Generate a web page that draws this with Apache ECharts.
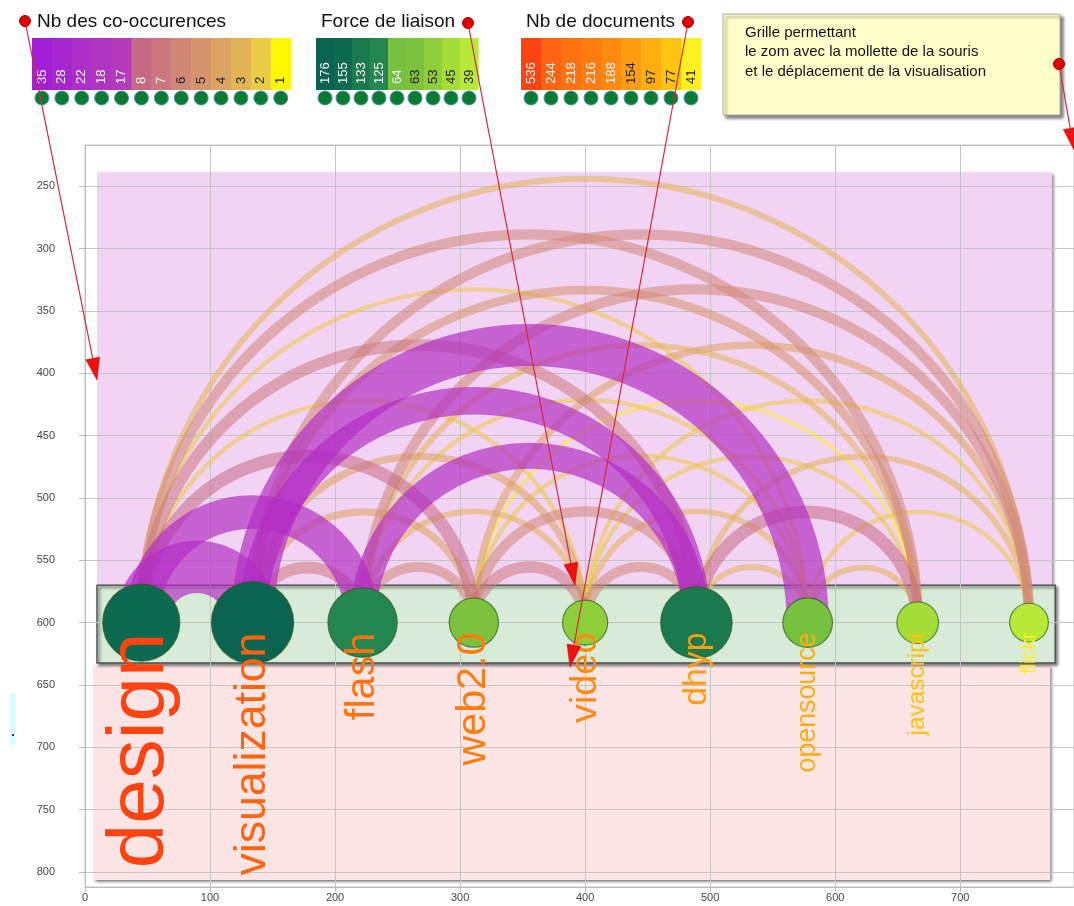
<!DOCTYPE html>
<html>
<head>
<meta charset="utf-8">
<script src="https://cdn.jsdelivr.net/npm/echarts@6/dist/echarts.min.js"></script>
<style>
  html, body { margin: 0; padding: 0; background: #fff; }
  #chart { width: 1074px; height: 906px; }
</style>
</head>
<body>
<div id="chart"></div>
<script>
    // mots (noeuds)
    var words = ['design', 'visualization', 'flash', 'web2.0', 'video', 'dhyp', 'opensource', 'javascript', 'flickr'];
    var wordX = [45, 134, 222, 311, 400, 489, 578, 666, 755];
    var wordForce = [155, 176, 125, 63, 53, 133, 64, 45, 39];
    var wordDocs = [536, 244, 218, 216, 188, 154, 97, 77, 41];

    // co-occurences (arcs)
    var linkSource = [0, 1, 2, 3, 4, 5, 6, 0, 1, 2, 3, 4, 5, 6, 0, 1, 2, 3, 4, 5, 0, 1, 2, 3, 4, 0, 1, 2, 3, 0, 1, 2, 0, 1, 0];
    var linkTarget = [1, 2, 3, 4, 5, 6, 7, 2, 3, 4, 5, 6, 7, 8, 3, 4, 5, 6, 7, 8, 4, 5, 6, 7, 8, 5, 6, 7, 8, 6, 7, 8, 7, 8, 8];
    var linkCount = [35, 7, 6, 7, 6, 3, 3, 22, 4, 3, 6, 3, 8, 2, 8, 4, 17, 2, 2, 3, 2, 18, 2, 1, 2, 7, 28, 3, 4, 2, 5, 6, 6, 6, 3];

    // legendes
    var coocTicks = [35, 28, 22, 18, 17, 8, 7, 6, 5, 4, 3, 2, 1];
    var coocColors = ['#a21fd6', '#a826cf', '#ad2ec8', '#b036c2', '#b43cbc', '#c46a84', '#ca787e', '#d08676', '#d6946c', '#dca462', '#e2b456', '#eacb46', '#fcf800'];
    var forceTicks = [176, 155, 133, 125, 64, 63, 53, 45, 39];
    var forceColors = ['#0a6450', '#0c6a50', '#1a7a4e', '#248650', '#78c040', '#7cc23e', '#8ece3a', '#a4dc38', '#b8e838'];
    var docTicks = [536, 244, 218, 216, 188, 154, 97, 77, 41];
    var docColors = ['#ff4412', '#ff6410', '#ff7210', '#ff7c10', '#ff8a10', '#ff9c10', '#ffae10', '#ffc410', '#fff020'];

    // graduations
    var xTicks = [0, 100, 200, 300, 400, 500, 600, 700];
    var yTicks = [250, 300, 350, 400, 450, 500, 550, 600, 650, 700, 750, 800];

    var baseY = 600;
    var labelY = 608;
    var FONT = 'Liberation Sans';

    function pick(ticks, colors, v) {
        return colors[ticks.indexOf(v)];
    }

    // les arcs violets tirent vers le magenta une fois poses sur le fond rose
    function arcColor(v) {
        return v >= 17 ? '#b22cc4' : pick(coocTicks, coocColors, v);
    }

    var links = linkSource.map(function (s, i) {
        return [wordX[s], wordX[linkTarget[i]], linkCount[i]];
    }).sort(function (a, b) { return a[2] - b[2]; });

    var nodes = wordX.map(function (x, i) { return [x, baseY, wordForce[i]]; });
    var labels = wordX.map(function (x, i) { return [x, labelY, wordDocs[i]]; });

    // elements graphiques (legendes, fleches, bulle)
    var graphics = [];

    function addLegend(title, ticks, colors, x0, boxW, darkFrom) {
        graphics.push({
            type: 'text', x: x0 + 5, y: 22,
            style: { text: title, fontSize: 19, fontFamily: FONT, fill: '#111', verticalAlign: 'middle' }
        });
        ticks.forEach(function (t, i) {
            var bx = x0 + i * boxW;
            graphics.push({ type: 'rect', shape: { x: bx, y: 38, width: boxW + 0.6, height: 52 }, style: { fill: colors[i] } });
            graphics.push({
                type: 'text', x: bx + boxW / 2, y: 84, rotation: Math.PI / 2,
                style: { text: String(t), fontSize: 13, fontFamily: FONT, fill: i < darkFrom ? '#f4f4f4' : '#222', align: 'left', verticalAlign: 'middle' }
            });
            graphics.push({
                type: 'circle', shape: { cx: bx + boxW / 2, cy: 98, r: 7 },
                style: { fill: '#0b7a32', stroke: '#4d8fb0', lineWidth: 1 }
            });
        });
    }

    addLegend('Nb des co-occurences', coocTicks, coocColors, 32, 19.9, 7);
    addLegend('Force de liaison', forceTicks, forceColors, 316, 18, 5);
    addLegend('Nb de documents', docTicks, docColors, 521, 20, 5);

    // bulle d'aide
    graphics.push({
        type: 'rect', shape: { x: 723, y: 14, width: 337, height: 101 },
        style: { fill: '#ffffcc', stroke: '#aaa', lineWidth: 1, shadowBlur: 3, shadowOffsetX: 3, shadowOffsetY: 3, shadowColor: 'rgba(0,0,0,0.5)' }
    });
    graphics.push({
        type: 'text', x: 745, y: 23,
        style: {
            text: 'Grille permettant\nle zom avec la mollette de la souris\net le déplacement de la visualisation',
            fontSize: 15, lineHeight: 19.5, fontFamily: FONT, fill: '#111'
        }
    });

    // petit artefact cyan a gauche
    graphics.push({ type: 'rect', shape: { x: 10, y: 693, width: 5, height: 52 }, style: { fill: '#d6ffff' } });
    graphics.push({ type: 'rect', shape: { x: 12, y: 734, width: 2, height: 2 }, style: { fill: '#333' } });

    // fleches rouges
    var arrows = [[25, 21, 97, 380], [468, 23, 575, 585], [688, 22, 570, 667], [1059, 64, 1074, 150]];
    arrows.forEach(function (a) {
        var dx = a[2] - a[0], dy = a[3] - a[1];
        var len = Math.sqrt(dx * dx + dy * dy);
        var ux = dx / len, uy = dy / len;
        var bx = a[2] - ux * 22, by = a[3] - uy * 22;
        graphics.push({
            type: 'line', z: 100, shape: { x1: a[0], y1: a[1], x2: bx, y2: by },
            style: { stroke: '#d42a3a', lineWidth: 1.2 }
        });
        graphics.push({
            type: 'polygon', z: 100,
            shape: { points: [[a[2], a[3]], [bx - uy * 7, by + ux * 7], [bx + uy * 7, by - ux * 7]] },
            style: { fill: '#ee1111', stroke: '#b00', lineWidth: 0.5 }
        });
        graphics.push({
            type: 'circle', z: 100, shape: { cx: a[0], cy: a[1], r: 5.5 },
            style: { fill: '#e40000', stroke: '#900', lineWidth: 1 }
        });
    });

    var chart = echarts.init(document.getElementById('chart'));

    chart.setOption({
        animation: false,
        textStyle: { fontFamily: FONT },
        grid: {
            left: 85, top: 145, right: 0, bottom: 19,
            show: true, borderColor: '#c4c4c4', borderWidth: 1
        },
        xAxis: {
            type: 'value', min: 0, max: 791, interval: 100, z: 1,
            axisLine: { show: true, lineStyle: { color: '#bdbdbd' } },
            axisTick: { show: true, length: 5, lineStyle: { color: '#bdbdbd' } },
            axisLabel: {
                color: '#444', fontSize: 11, margin: 5, showMaxLabel: false,
                formatter: function (v) { return xTicks.indexOf(v) >= 0 ? String(v) : ''; }
            },
            splitLine: { show: true, lineStyle: { color: '#c4c4c4' } }
        },
        yAxis: {
            type: 'value', inverse: true, min: 217, max: 812, splitNumber: 12, z: 1,
            axisLine: { show: true, lineStyle: { color: '#bdbdbd' } },
            axisTick: { show: true, length: 6, lineStyle: { color: '#bdbdbd' } },
            axisLabel: {
                color: '#444', fontSize: 11, margin: 30, showMinLabel: false, showMaxLabel: false,
                formatter: function (v) { return yTicks.indexOf(v) >= 0 ? String(v) : ''; }
            },
            splitLine: { show: true, lineStyle: { color: '#c4c4c4' } }
        },
        graphic: graphics,
        series: [
            {
                // bandes de fond
                type: 'custom', z: 0, silent: true,
                data: [
                    [9.6, 238.8, 773.6, 570, '#f3d3f3', 0],
                    [6.4, 634, 772, 806.4, '#fde5e5', 0],
                    [9.6, 570, 776, 632.4, '#d8ead8', 1]
                ],
                renderItem: function (params, api) {
                    var p1 = api.coord([api.value(0), api.value(1)]);
                    var p2 = api.coord([api.value(2), api.value(3)]);
                    var bordered = api.value(5) === 1;
                    return {
                        type: 'rect',
                        shape: { x: p1[0], y: p1[1], width: p2[0] - p1[0], height: p2[1] - p1[1] },
                        style: {
                            fill: api.value(4),
                            stroke: bordered ? '#555' : null, lineWidth: bordered ? 1.5 : 0,
                            shadowBlur: 3, shadowOffsetX: 2, shadowOffsetY: 2, shadowColor: 'rgba(0,0,0,0.6)'
                        }
                    };
                }
            },
            {
                // arcs de co-occurence
                type: 'custom', z: 2, silent: true,
                data: links,
                renderItem: function (params, api) {
                    var a = api.coord([api.value(0), baseY]);
                    var b = api.coord([api.value(1), baseY]);
                    var v = api.value(2);
                    return {
                        type: 'arc',
                        shape: {
                            cx: (a[0] + b[0]) / 2, cy: a[1], r: Math.abs(b[0] - a[0]) / 2,
                            startAngle: Math.PI, endAngle: Math.PI * 2, clockwise: true
                        },
                        style: { fill: 'none', stroke: arcColor(v), lineWidth: v * 1.45 + 1.5, opacity: v >= 17 ? 0.68 : 0.55 }
                    };
                }
            },
            {
                // mots
                type: 'scatter', z: 3,
                data: nodes,
                symbolSize: function (val) { return 6.2 * Math.sqrt(val[2]); },
                itemStyle: {
                    color: function (p) { return pick(forceTicks, forceColors, p.value[2]); },
                    borderColor: 'rgba(50,90,30,0.7)', borderWidth: 1.2, opacity: 1
                }
            },
            {
                // libelles
                type: 'custom', z: 4, silent: true,
                data: labels,
                renderItem: function (params, api) {
                    var p = api.coord([api.value(0), api.value(1)]);
                    var d = api.value(2);
                    return {
                        type: 'text', x: p[0], y: p[1], rotation: Math.PI / 2,
                        style: {
                            text: words[params.dataIndex],
                            fontSize: 20 + (d - 41) * 60 / 495,
                            fontFamily: FONT,
                            fill: pick(docTicks, docColors, d),
                            align: 'right', verticalAlign: 'middle'
                        }
                    };
                }
            }
        ]
    });
</script>
</body>
</html>
